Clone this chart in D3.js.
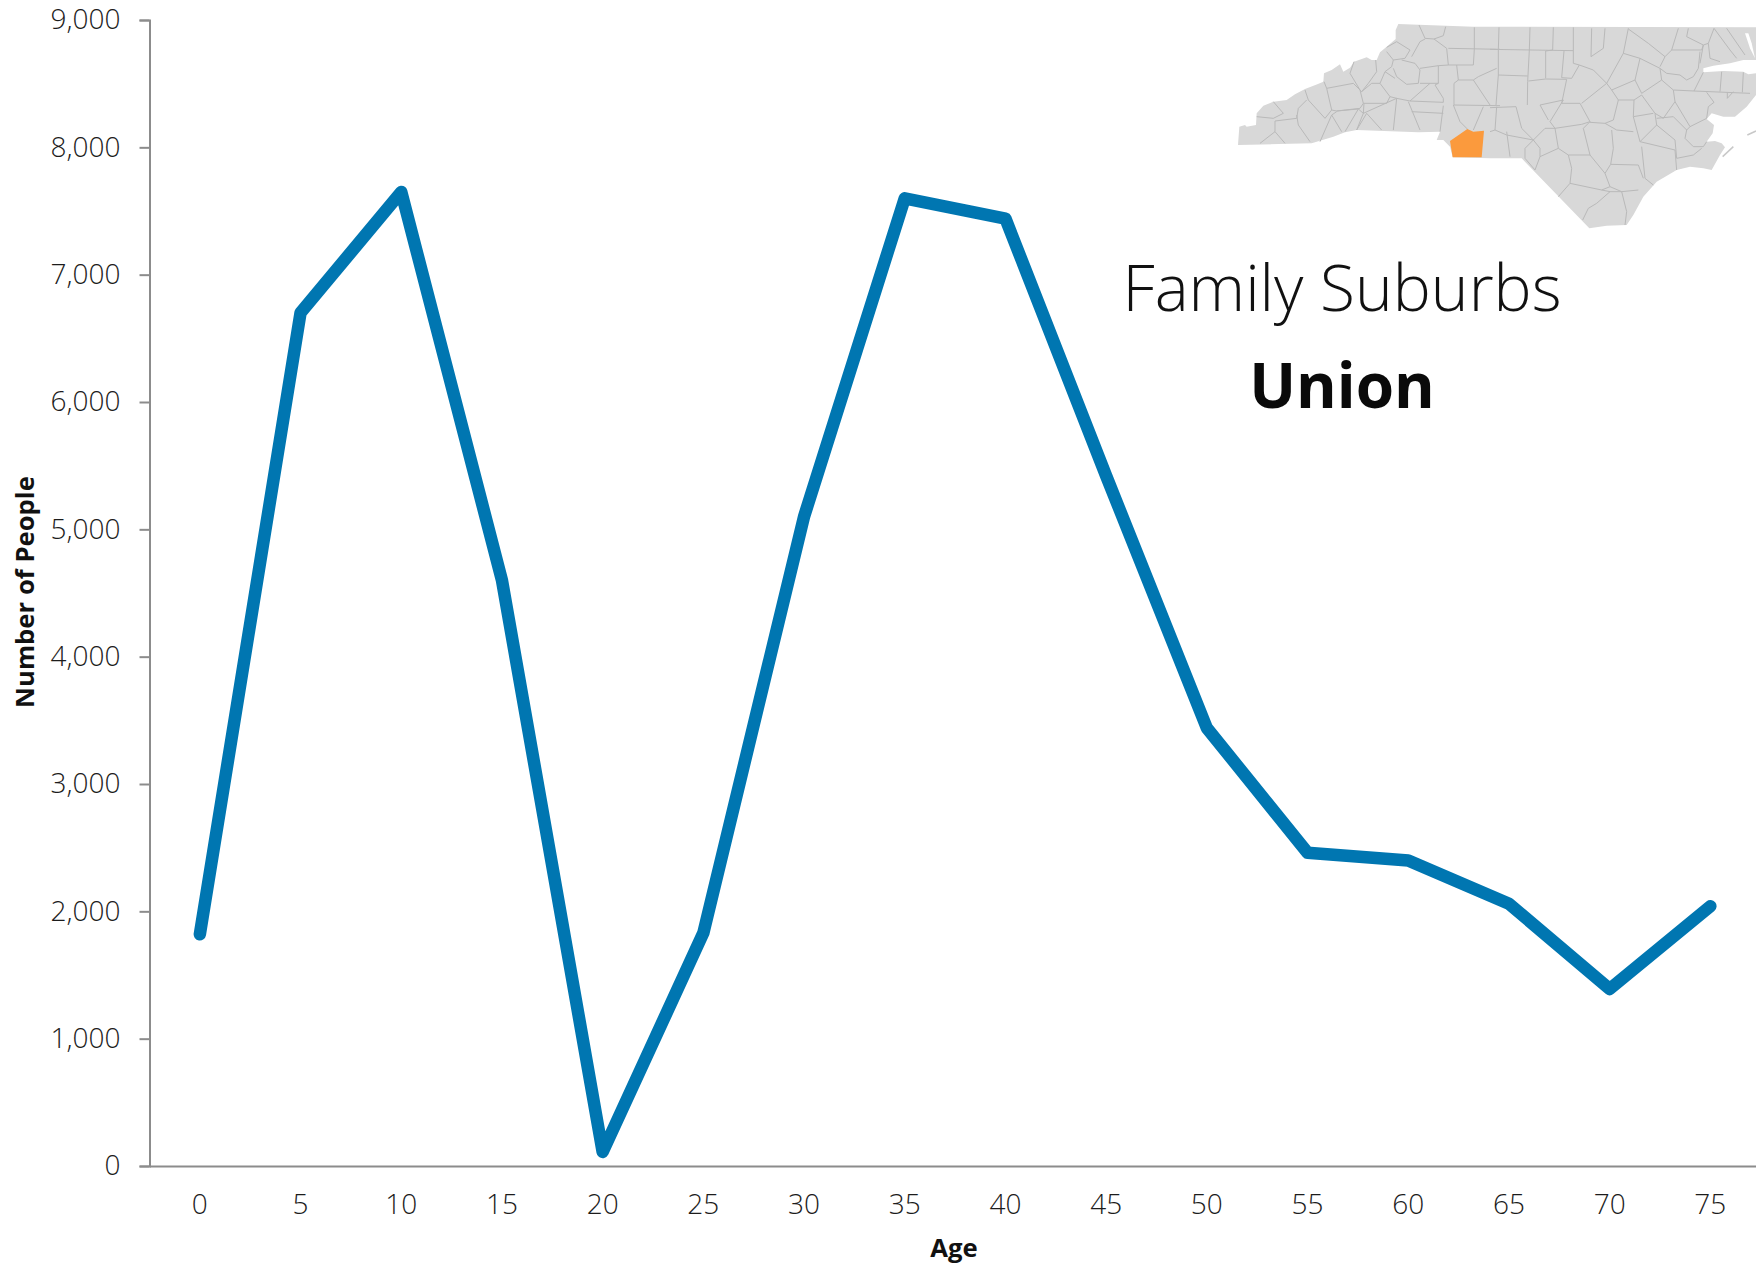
<!DOCTYPE html>
<html>
<head>
<meta charset="utf-8">
<script src="https://cdn.jsdelivr.net/npm/d3@7"></script>
<style>
html,body{margin:0;padding:0;background:#fff}
text{font-family:"Open Sans",sans-serif}
</style>
</head>
<body>
<svg id="mySVG" width="1756" height="1266"></svg>
<script>
var ages=["0","5","10","15","20","25","30","35","40","45","50","55","60","65","70","75"]
var people=[1820,6700,7650,4600,110,1830,5100,7600,7440,5420,3440,2460,2400,2060,1390,2040]
var yTicks=[0,1000,2000,3000,4000,5000,6000,7000,8000,9000]

//---map traced in its own 1578 x 660 space---
var E=780 //---east half was traced separately---
function east(list){return list.map(function(p){return [p[0]+E,p[1]]})}
var westShore=[[668,427],[660,395],[640,375],[620,375],[630,350],[565,352],[380,345],[345,352],[310,365],[245,385],[24,390],[28,335],[45,330],[50,335],[78,330],[80,295],[100,272],[130,260],[170,255],[195,238],[225,222],[262,208],[280,200],[282,175],[305,165],[330,148],[340,170],[360,158],[372,140],[410,127],[425,135],[440,135],[450,112],[470,95],[497,72],[497,45],[505,27],[730,35]]
var eastShore=[[790,37],[798,37],[798,135],[760,135],[720,145],[670,152],[640,160],[640,172],[700,168],[760,170],[775,178],[798,175],[798,240],[770,275],[735,305],[700,305],[665,295],[650,312],[672,330],[668,355],[650,380],[675,378],[695,385],[705,397],[690,420],[665,465],[640,460],[600,455],[560,465],[500,500],[460,545],[430,600],[410,630],[350,632],[298,640],[95,430],[0,430]]
var unionOutline=[[660,378],[712,342],[730,350],[762,347],[755,427],[668,427]]
var soundCut=[[765,55],[775,55],[785,85],[795,130],[780,100]]
var bankLines=[[[698,425],[730,395]],[[772,360],[798,348]]]
var westCounties=[
[[567,30],[585,70],[612,72],[640,62],[647,35]],[[470,97],[500,80],[540,105],[525,130],[490,135],[470,110]],[[545,125],[570,80],[585,72]],
[[612,72],[650,100],[655,150],[730,150],[733,102],[733,37]],[[655,100],[810,103]],[[490,135],[485,155],[465,170],[495,190]],
[[515,135],[555,145],[570,165],[565,205],[530,208],[500,185],[490,160]],[[570,160],[625,152],[625,205],[570,205]],[[625,152],[655,150]],
[[625,205],[615,210],[640,250],[640,262]],[[600,205],[540,258]],[[465,170],[450,205],[480,245],[500,250],[540,258],[640,262]],
[[680,150],[685,195],[672,205],[672,270]],[[685,195],[730,195],[745,185],[800,160]],[[730,195],[760,240],[780,270]],[[672,270],[810,272]],
[[437,135],[440,170],[415,205],[395,230]],[[372,140],[360,175],[390,225],[395,230]],[[282,200],[290,220],[370,205],[390,225],[400,265],[390,280],[320,288],[305,285]],[[290,220],[305,285]],
[[225,225],[235,255],[285,310],[305,285]],[[395,230],[425,205],[450,205]],[[400,265],[470,265],[480,245]],[[402,265],[400,295],[500,250]],
[[130,260],[160,295],[130,310],[80,305]],[[135,318],[200,310],[205,280],[230,255]],[[200,300],[205,330],[240,380]],[[270,380],[305,300],[320,290]],[[305,300],[335,350]],
[[135,318],[135,350],[90,385]],[[135,350],[165,385]],[[320,288],[385,282],[345,350]],[[385,282],[400,295],[380,345]],[[380,345],[410,295],[455,345]],
[[500,250],[490,345]],[[535,260],[570,345]],[[545,290],[640,295]],[[640,272],[630,350]],[[670,270],[690,320],[712,342]],[[760,275],[730,345]]
]
var eastCounties=[
[[27,37],[25,105],[25,180],[18,270]],[[120,37],[118,105],[113,200],[112,270]],[[190,37],[188,105],[167,108],[167,190]],[[250,37],[250,145]],[[0,103],[250,107]],
[[222,108],[215,188],[245,190],[268,150],[250,145]],[[25,180],[113,183]],[[115,198],[167,192],[230,193],[215,265],[270,265]],[[305,40],[303,125],[340,100],[345,40]],
[[415,40],[400,115],[350,205],[310,165],[268,150]],[[350,205],[365,225],[385,255]],[[275,265],[350,205]],[[400,115],[450,130],[435,195],[365,225]],
[[450,130],[510,160],[515,195],[455,235],[435,195]],[[415,42],[475,85],[525,125],[510,155]],[[565,40],[545,105],[525,125]],[[545,105],[635,105],[640,90],[590,65],[595,40]],
[[672,40],[655,85],[640,90],[630,145]],[[655,85],[660,130],[690,140]],[[672,40],[720,105],[740,130]],[[710,40],[765,120]],
[[510,160],[530,175],[570,180],[590,195],[610,185],[625,160],[630,110]],[[515,195],[550,225],[612,228]],[[612,228],[640,172]],[[612,228],[780,235]],[[695,170],[690,230]],[[760,172],[757,232]],
[[650,232],[672,262],[655,275],[650,310],[600,335],[555,260],[550,225]],[[712,232],[712,250],[730,230]],[[555,260],[520,310],[495,295],[455,240],[432,255],[430,305],[450,380],[500,330],[495,295]],
[[385,255],[432,255]],[[385,255],[370,315],[345,325],[380,345],[430,350]],[[430,305],[490,295]],[[500,330],[555,375],[560,430]],[[500,310],[550,305],[590,345],[600,335]],
[[450,380],[555,405]],[[455,395],[465,490],[490,510]],[[555,405],[560,465]],[[590,345],[585,370],[610,395],[640,395],[650,380]],[[560,430],[610,420],[635,400]],
[[220,255],[180,320],[195,340],[275,328],[300,320],[270,265]],[[220,255],[150,270],[175,315]],[[78,275],[95,340],[130,375],[165,340],[195,340],[205,400],[235,420],[300,420],[280,340],[300,320]],
[[345,325],[300,322]],[[365,345],[370,400],[362,448],[445,450],[460,490]],[[300,420],[345,475],[362,448]],[[235,420],[245,460],[240,505],[335,525],[360,515],[345,475]],
[[205,400],[150,425],[135,465]],[[130,375],[105,400],[105,430],[135,465]],[[130,375],[150,400],[150,425]],[[20,275],[15,345],[50,360],[130,375]],[[50,350],[60,425]],[[240,505],[205,545]],
[[335,525],[360,530],[320,565],[295,580],[278,615]],[[360,515],[395,530],[445,525]],[[395,530],[410,590],[405,630]],[[360,530],[395,530]],[[0,350],[15,345]],[[0,278],[78,275]]
]

var svg=d3.select("#mySVG")
var x=d3.scaleBand().domain(ages).range([149.5,1760.7])
var y=d3.scaleLinear().domain([0,9000]).range([1166,20])
var fmt=d3.format(",")

//---axes---
var yAxis=svg.append("g").attr("transform","translate(149.5,0)")
    .call(d3.axisLeft(y).tickValues(yTicks).tickSize(10).tickPadding(19).tickFormat(fmt))
var xAxis=svg.append("g").attr("transform","translate(0,1166)")
    .call(d3.axisBottom(x).tickSize(0).tickPadding(28))
svg.selectAll(".domain").attr("stroke","#8c8c8c").attr("stroke-width",2)
svg.selectAll(".tick line").attr("stroke","#8c8c8c").attr("stroke-width",2)
svg.selectAll(".tick text").attr("font-size",28).attr("font-weight",300)
    .attr("font-family","'Open Sans',sans-serif").attr("fill","#1c1c1c")

svg.append("text").attr("x",954).attr("y",1257).attr("text-anchor","middle")
    .attr("font-size",25.7).attr("font-weight",700).attr("fill","#111").text("Age")
svg.append("text").attr("transform","translate(34,592) rotate(-90)").attr("text-anchor","middle")
    .attr("font-size",25.7).attr("font-weight",700).attr("fill","#111").text("Number of People")

//---line---
var line=d3.line().x(function(d,i){return x(ages[i])+x.bandwidth()/2}).y(function(d){return y(d)})
svg.append("path").datum(people).attr("d",line).attr("fill","none")
    .attr("stroke","#0076b1").attr("stroke-width",12.5)
    .attr("stroke-linecap","round").attr("stroke-linejoin","round")

//---map---
var defs=svg.append("defs")
defs.append("filter").attr("id","soft").append("feGaussianBlur").attr("stdDeviation",0.45)
var mapX=d3.scaleLinear().domain([0,1578]).range([1230,1756])
var mapY=d3.scaleLinear().domain([0,660]).range([15,235])
var mapLine=d3.line().x(function(d){return mapX(d[0])}).y(function(d){return mapY(d[1])})
var mapG=svg.append("g").attr("filter","url(#soft)")
mapG.append("path").attr("d",mapLine(westShore.concat(east(eastShore)))+"Z").attr("fill","#d8d8d8")
mapG.selectAll("path.county").data(westCounties.concat(eastCounties.map(east))).enter().append("path").attr("class","county")
    .attr("d",mapLine).attr("fill","none").attr("stroke","#b9b9b9").attr("stroke-width",1)
mapG.append("path").attr("d",mapLine(east(soundCut))+"Z").attr("fill","#fff")
mapG.selectAll("path.bank").data(bankLines.map(east)).enter().append("path").attr("class","bank")
    .attr("d",mapLine).attr("fill","none").attr("stroke","#c8c8c8").attr("stroke-width",1.5)
mapG.append("path").attr("d",mapLine(unionOutline)+"Z").attr("fill","#fb9a3c")

//---titles---
svg.append("text").attr("x",1342).attr("y",311).attr("text-anchor","middle")
    .attr("font-size",64).attr("font-weight",300).attr("fill","#111").text("Family Suburbs")
svg.append("text").attr("x",1342).attr("y",408).attr("text-anchor","middle")
    .attr("font-size",62).attr("font-weight",700).attr("fill","#0a0a0a").text("Union")
</script>
</body>
</html>
